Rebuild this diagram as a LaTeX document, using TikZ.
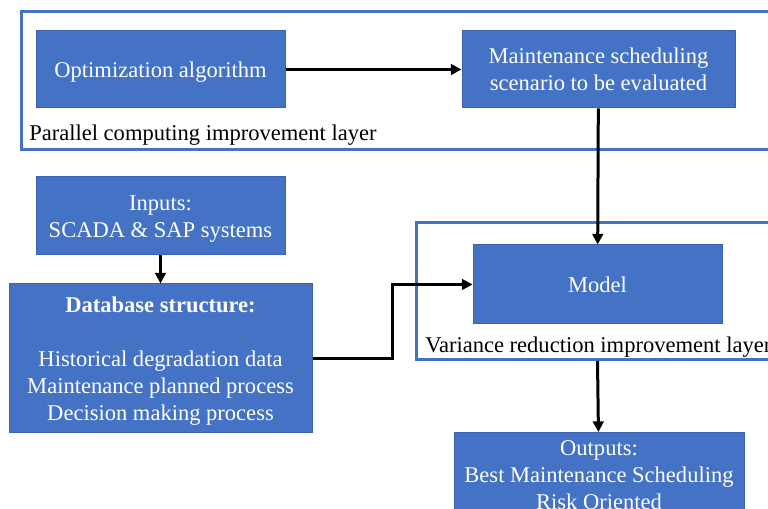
\documentclass[tikz,border=0pt]{standalone}
\usepackage{fontspec}
\setmainfont{Liberation Serif}
\usetikzlibrary{arrows.meta, positioning, calc}
\definecolor{BoxBlue}{HTML}{4472C4}
\definecolor{BoxEdge}{HTML}{3A62AE}
\definecolor{LayerBlue}{HTML}{4472C4}

% line struts, so text sits like the office layout
\newcommand{\ascstrut}{\rule{0pt}{0.891em}}
\newcommand{\descstrut}{\rule[-0.216em]{0pt}{0.216em}}

\begin{document}
\begin{tikzpicture}[
    x=0.75pt,
    y=-0.75pt,
    >=Triangle,
    every node/.style={font=\fontsize{16.9}{20.25}\selectfont},
    bluebox/.style={draw=BoxEdge, fill=BoxBlue, line width=0.75pt, text=white, align=center, inner sep=2pt},
    layerbox/.style={draw=LayerBlue, line width=2.25pt, anchor=north west, inner sep=0pt},
    layerlabel/.style={anchor=west, inner sep=0pt, text=black,
        execute at begin node=\ascstrut, execute at end node=\descstrut},
    arrowline/.style={draw=black, line width=2.25pt, -{Triangle[length=8pt, width=8pt]}}
]

\useasboundingbox (0,0) rectangle (768,509);
\clip (0,0) rectangle (768,509);

% improvement layers
\node[layerbox, minimum width=585pt, minimum height=103.5pt] (parlayer) at (20,10) {};
\node[layerbox, minimum width=288.75pt, minimum height=102.75pt] (varlayer) at (415,221) {};
\node[layerlabel] (parallel) at (29,133) {Parallel computing improvement layer};
\node[layerlabel] (variance) at (425,345) {Variance reduction improvement layer};

% boxes
\node[bluebox, minimum width=186.75pt, minimum height=57.75pt] (optim) at (160.5,69.5)
{\ascstrut Optimization algorithm\descstrut};

\node[bluebox, minimum width=204.75pt, minimum height=57.75pt] (scenario) at (598.5,69.5)
{\ascstrut Maintenance scheduling\\scenario to be evaluated\descstrut};

\node[bluebox, minimum width=186.75pt, minimum height=58.5pt] (inputs) at (160.5,216)
{\ascstrut Inputs:\\SCADA \& SAP systems\descstrut};

\node[bluebox, minimum width=227.25pt, minimum height=111.75pt] (database) at (160.5,358.5)
{\ascstrut\textbf{Database structure:}\\[20.25pt]
Historical degradation data\\
Maintenance planned process\\
Decision making process\descstrut};

\node[bluebox, minimum width=186.75pt, minimum height=59.25pt] (model) at (597.5,284.5)
{\ascstrut Model\descstrut};

\node[bluebox, minimum width=217.5pt, minimum height=61.5pt, anchor=north] (outputs) at (599,432)
{\ascstrut Outputs:\\Best Maintenance Scheduling\\Risk Oriented\descstrut};

% connectors
\coordinate (elbow) at (392,0);
\draw[arrowline] (optim) -- (scenario);
\draw[arrowline] (scenario) -- (model);
\draw[arrowline] (inputs) -- (database);
\draw[arrowline] (database.east) -- (database.east -| elbow) |- (model.west);
\draw[arrowline] (model |- varlayer.south) -- (outputs);

\end{tikzpicture}
\end{document}
